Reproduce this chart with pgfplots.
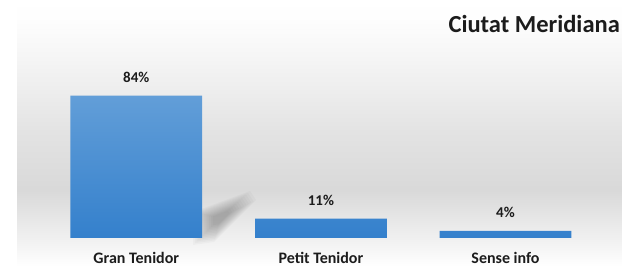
\documentclass[border=0pt]{standalone}
\usepackage{pgfplots}
\pgfplotsset{compat=1.18}
\usepackage{fontspec}
\setmainfont{Carlito}
\definecolor{bartop}{RGB}{98,158,216}
\definecolor{barbot}{RGB}{52,128,204}
\definecolor{txt}{RGB}{28,28,28}
\definecolor{bgA}{gray}{1.0}
\definecolor{bgB}{gray}{0.96}
\definecolor{bgC}{gray}{0.85}
\definecolor{bgD}{gray}{0.89}
\definecolor{bgE}{gray}{0.96}
\definecolor{bgF}{gray}{0.995}
\pgfdeclareverticalshading{bgshade}{100bp}{color(0bp)=(bgA); color(25bp)=(bgA); color(28.5bp)=(bgB); color(39.7bp)=(bgC); color(51bp)=(bgD); color(65bp)=(bgE); color(73bp)=(bgF); color(100bp)=(bgF)}
\begin{document}
\begin{tikzpicture}
\fill[white] (0,0) rectangle (622bp,266bp);
\shade[shading=bgshade] (17bp,0) rectangle (622bp,258bp);
% soft shadow behind the first bar
\begin{scope}[shift={(220bp,48bp)}]
\foreach \s in {1.5,1.4,1.3,1.2,1.1,1.0,0.9,0.8,0.7,0.6,0.5,0.4}{
  \fill[black,opacity=0.025,scale=\s] (-18bp,-18bp) -- (-18bp,4bp) -- (20bp,18bp) -- (24bp,12bp) -- (-4bp,-16bp) -- cycle;
}
\end{scope}
\begin{axis}[
  at={(44bp,28.1bp)}, anchor=south west,
  scale only axis, width=553.8bp, height=168.6bp,
  xmin=-0.5, xmax=2.5, ymin=0, ymax=100,
  clip=false,
  axis line style={draw=none}, tick style={draw=none},
  ytick=\empty,
  xtick={0,1,2},
  xticklabels={Gran Tenidor,Petit Tenidor,Sense info},
  xticklabel style={yshift=-10bp, inner sep=0pt,
    font=\fontsize{16bp}{19bp}\selectfont\bfseries, text=txt},
  ybar, bar width=0.7134,
]
\addplot[draw=none, top color=bartop, bottom color=barbot,
  nodes near coords={\pgfmathprintnumber[fixed,precision=0,assume math mode=true]{\pgfplotspointmeta}\%},
  every node near coord/.append style={anchor=south, inner sep=0pt, yshift=13bp,
    font=\fontsize{15bp}{18bp}\selectfont\bfseries, text=txt}]
  coordinates {(0,84.4) (1,11.4) (2,4.2)};
\end{axis}
\node[anchor=base east, inner sep=0pt, font=\fontsize{24.5bp}{28bp}\selectfont\bfseries, text=txt] at (620bp,233bp) {Ciutat Meridiana};
\pgfresetboundingbox
\useasboundingbox (0,0) rectangle (622bp,266bp);
\end{tikzpicture}
\end{document}
